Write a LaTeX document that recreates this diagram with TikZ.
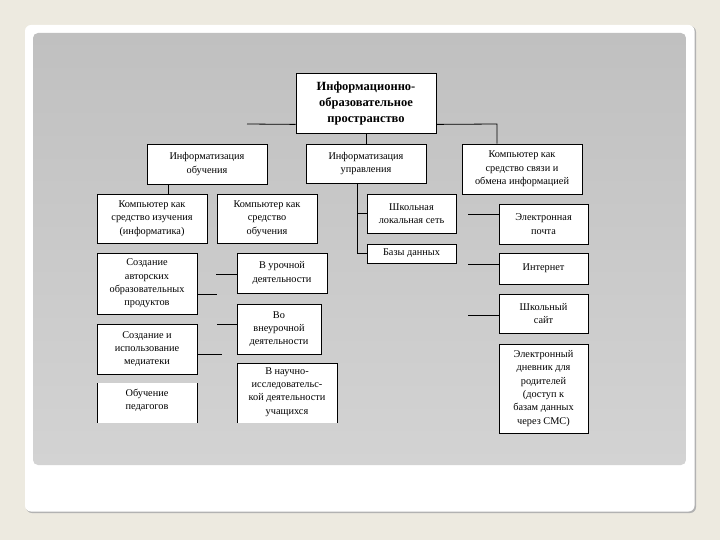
\documentclass[tikz,border=0pt]{standalone}
\usepackage{fontspec}
\setmainfont{Liberation Serif}
\definecolor{slidebg}{HTML}{EDEAE0}
\definecolor{panelgray}{HTML}{C0C0C0}
\definecolor{panelgraylow}{HTML}{D3D3D3}
\begin{document}
\begin{tikzpicture}[x=1pt,y=-1pt,
  box/.style={draw=black,line width=0.8pt,fill=white,inner sep=1pt,align=center,
    font=\fontsize{10.3}{13.3}\selectfont},
  title/.style={box,font=\fontsize{12.5}{16}\selectfont\bfseries},
  link/.style={draw=black,line width=0.8pt}]
\useasboundingbox (0,0) rectangle (720,540);
% slide background
\fill[slidebg] (0,0) rectangle (720,540);
\fill[gray!60] (26,26) [rounded corners=6pt] rectangle (696,513);
\fill[white] (25,25) [rounded corners=6pt] rectangle (694.5,511.5);
\shade[top color=panelgray,bottom color=panelgraylow,rounded corners=5pt] (33,33) rectangle (686,465);

% nodes
\node[title,minimum width=140pt,minimum height=60pt] (main) at (366,103)
  {Информационно-\\образовательное\\пространство};
\node[box,minimum width=120pt,minimum height=40pt] (iobuch) at (207,164)
  {Информатизация\\обучения};
\node[box,minimum width=120pt,minimum height=39pt] (iupr) at (366,163.5)
  {Информатизация\\управления};
\node[box,minimum width=120pt,minimum height=50pt] (ksvyaz) at (522,169)
  {Компьютер как\\средство связи и\\обмена информацией};
\node[box,minimum width=110pt,minimum height=49pt] (kizuch) at (152,218.5)
  {Компьютер как\\средство изучения\\(информатика)};
\node[box,minimum width=100pt,minimum height=49pt] (kobuch) at (267,218.5)
  {Компьютер как\\средство\\обучения};
\node[box,minimum width=89pt,minimum height=39pt] (shls) at (411.5,213.5)
  {Школьная\\локальная сеть};
\node[box,minimum width=89pt,minimum height=19pt] (bd) at (411.5,253.5)
  {Базы данных};
\node[box,minimum width=89pt,minimum height=40pt] (epochta) at (543.5,224)
  {Электронная\\почта};
\node[box,minimum width=89pt,minimum height=31pt] (internet) at (543.5,268.5)
  {Интернет};
\node[box,minimum width=89pt,minimum height=39pt] (sajt) at (543.5,313.5)
  {Школьный\\сайт};
\node[box,minimum width=89pt,minimum height=89pt] (dnevnik) at (543.5,388.5)
  {Электронный\\дневник для\\родителей\\(доступ к\\базам данных\\через СМС)};
\node[box,minimum width=100pt,minimum height=61pt] (sozdavt) at (147,283.5)
  {Создание\\авторских\\образовательных\\продуктов};
\node[box,minimum width=100pt,minimum height=50pt] (mediat) at (147,349)
  {Создание и\\использование\\медиатеки};
\node[box,minimum width=90pt,minimum height=40pt] (urok) at (282,273)
  {В урочной\\деятельности};
\node[box,minimum width=84pt,minimum height=50pt] (vneurok) at (279,329)
  {Во\\внеурочной\\деятельности};
% open-bottom boxes (cut at the bottom of the picture)
\fill[white] (97,383) rectangle (197,423);
\draw[link] (97,383) -- (97,423) (197,383) -- (197,423);
\node[box,draw=none,fill=none] (obped) at (147,400) {Обучение\\педагогов};
\fill[white] (237,363) rectangle (337,423);
\draw[link] (237,423) -- (237,363) -- (337,363) -- (337,423);
\node[box,draw=none,fill=none] (nauch) at (287,392) {В научно-\\исследовательс-\\кой деятельности\\учащихся};

% connectors
\coordinate (lstub) at (247,124);
\coordinate (rturn) at (497,124);
\draw[link] ([yshift=9pt]main.south west) -- (lstub);
\draw[link] ([yshift=9pt]main.south east) -- (rturn) -- (rturn |- ksvyaz.north);
\draw[link] (main.south) -- (iupr.north);
\coordinate (ob) at (168,0);
\draw[link] (ob |- iobuch.south) -- (ob |- kizuch.north);
\coordinate (up) at (357,0);
\draw[link] (up |- iupr.south) -- (up |- bd.west) -- (bd.west);
\draw[link] (up |- shls.west) -- (shls.west);
% right stubs
\coordinate (rs1) at (468,214);
\coordinate (rs2) at (468,264);
\coordinate (rs3) at (468,315);
\draw[link] (rs1) -- (rs1 -| epochta.west);
\draw[link] (rs2) -- (rs2 -| internet.west);
\draw[link] (rs3) -- (rs3 -| sajt.west);
% left stubs
\coordinate (ls1) at (216,274);
\coordinate (ls2) at (217,294);
\coordinate (ls3) at (217,324);
\coordinate (ls4) at (222,354);
\draw[link] (ls1) -- (ls1 -| urok.west);
\draw[link] (ls2 -| sozdavt.east) -- (ls2);
\draw[link] (ls3) -- (ls3 -| vneurok.west);
\draw[link] (ls4 -| mediat.east) -- (ls4);
\end{tikzpicture}
\end{document}
